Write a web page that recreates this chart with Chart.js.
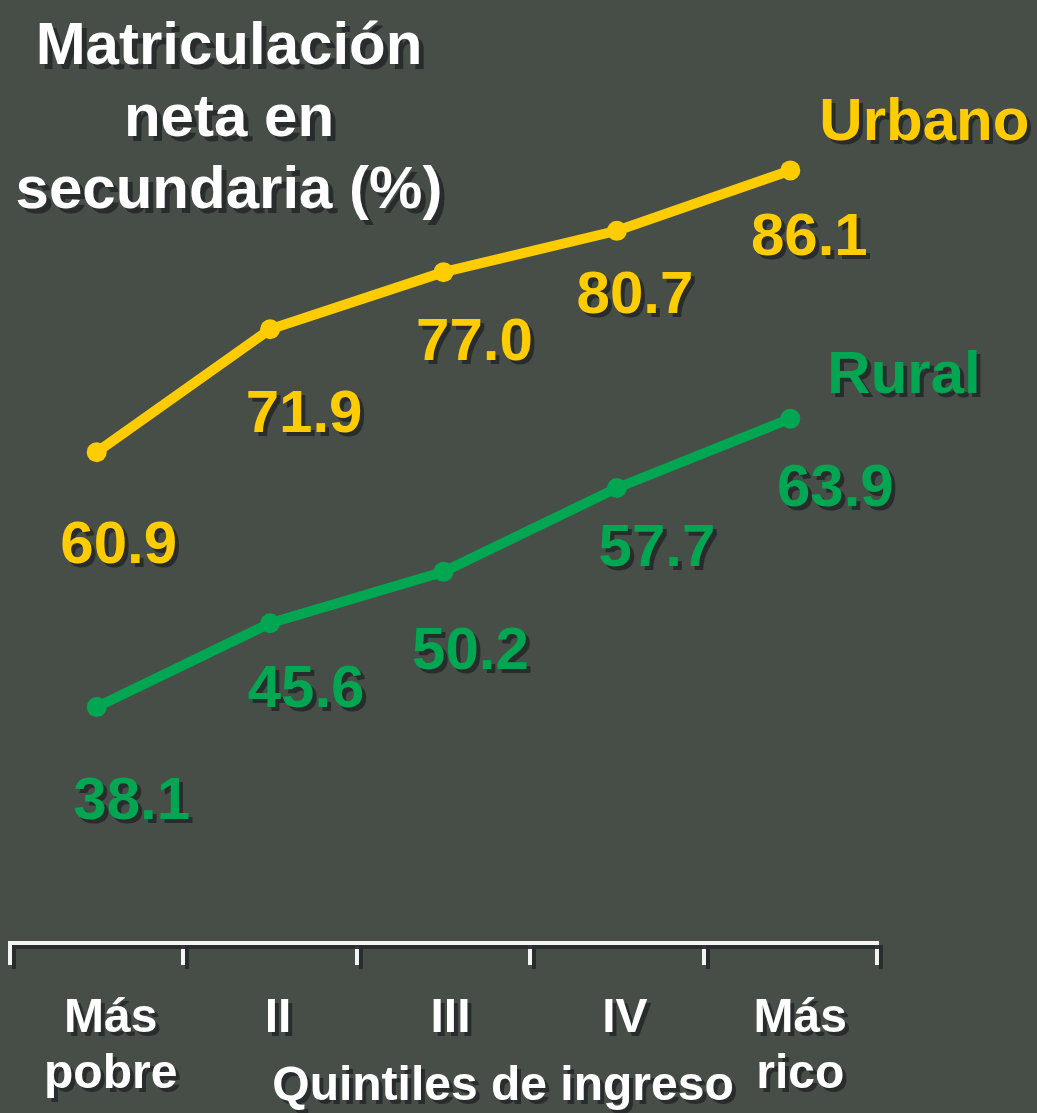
<!DOCTYPE html>
<html lang="es">
<head>
<meta charset="utf-8">
<title>Matriculación neta en secundaria</title>
<script src="https://cdn.jsdelivr.net/npm/chart.js@4.4.1/dist/chart.umd.min.js"></script>
<style>
  html, body { margin: 0; padding: 0; background: #464e47; }
  #wrap { position: relative; width: 1037px; height: 1113px; }
</style>
</head>
<body>
<div id="wrap"><canvas id="matriculaChart" width="1037" height="1113"></canvas></div>
<script>
// Datos
const quintiles = [['Más', 'pobre'], ['II'], ['III'], ['IV'], ['Más', 'rico']];
const urbano = [60.9, 71.9, 77.0, 80.7, 86.1];
const rural = [38.1, 45.6, 50.2, 57.7, 63.9];
const tituloLineas = ['Matriculación', 'neta en', 'secundaria (%)'];
const tituloEje = 'Quintiles de ingreso';

// Colores y ajustes de etiquetas (desplazamiento respecto al punto)
const AMARILLO = '#ffcc00';
const VERDE = '#00a651';
const SOMBRA = 'rgba(40, 42, 44, 0.95)';
const FUENTE = '"Liberation Sans", Arial, Helvetica, sans-serif';
const desplazUrbano = { dx: [22, 34, 31, 18, 19], dy: [111, 103, 88, 82, 85] };
const desplazRural = { dx: [35, 36, 27, 40, 45], dy: [112, 84, 97, 78, 87] };
const desplazCateg = [14, 8, 7, 8, 10];

function ponerSombra(ctx, d) {
    ctx.shadowColor = SOMBRA;
    ctx.shadowOffsetX = d;
    ctx.shadowOffsetY = d;
    ctx.shadowBlur = 0;
}

function quitarSombra(ctx) {
    ctx.shadowColor = 'rgba(0,0,0,0)';
    ctx.shadowOffsetX = 0;
    ctx.shadowOffsetY = 0;
}

function texto(ctx, str, x, y, color, size, align) {
    ctx.font = 'bold ' + size + 'px ' + FUENTE;
    ctx.fillStyle = color;
    ctx.textAlign = align || 'center';
    ctx.textBaseline = 'alphabetic';
    ctx.fillText(str, x, y);
}

// Sombra para el eje (se dibuja antes que las series)
const sombraEje = {
    id: 'sombraEje',
    beforeDraw(chart) {
        ponerSombra(chart.ctx, 4);
    },
    beforeDatasetsDraw(chart) {
        quitarSombra(chart.ctx);
    }
};

// Títulos, etiquetas de valores y de categorías
const rotulos = {
    id: 'rotulos',
    afterDatasetsDraw(chart) {
        const ctx = chart.ctx;
        ctx.save();
        ponerSombra(ctx, 4);

        const series = [
            { meta: chart.getDatasetMeta(0), vals: urbano, color: AMARILLO, d: desplazUrbano, nombre: 'Urbano', nx: 29, ny: -30 },
            { meta: chart.getDatasetMeta(1), vals: rural, color: VERDE, d: desplazRural, nombre: 'Rural', nx: 37, ny: -26 }
        ];
        series.forEach(s => {
            s.meta.data.forEach((pt, i) => {
                texto(ctx, s.vals[i].toFixed(1), pt.x + s.d.dx[i], pt.y + s.d.dy[i], s.color, 60);
            });
            const ult = s.meta.data[s.meta.data.length - 1];
            texto(ctx, s.nombre, ult.x + s.nx, ult.y + s.ny, s.color, 60, 'left');
        });

        // categorías del eje x
        const xs = chart.scales.x;
        quintiles.forEach((lineas, i) => {
            const x = xs.getPixelForValue(i) + desplazCateg[i];
            lineas.forEach((l, j) => {
                texto(ctx, l, x, 1032 + j * 56, '#ffffff', 48);
            });
        });
        texto(ctx, tituloEje, 503, 1100, '#ffffff', 48);

        // título
        ponerSombra(ctx, 5);
        tituloLineas.forEach((l, j) => {
            texto(ctx, l, 229, 64 + j * 72, '#ffffff', 60);
        });
        ctx.restore();
    }
};

document.addEventListener('DOMContentLoaded', () => {
    const ctx = document.getElementById('matriculaChart').getContext('2d');
    new Chart(ctx, {
        type: 'line',
        data: {
            labels: quintiles,
            datasets: [{
                label: 'Urbano',
                data: urbano,
                borderColor: AMARILLO,
                backgroundColor: AMARILLO,
                borderWidth: 10,
                pointRadius: 10,
                pointBackgroundColor: AMARILLO,
                pointBorderWidth: 0,
                tension: 0
            }, {
                label: 'Rural',
                data: rural,
                borderColor: VERDE,
                backgroundColor: VERDE,
                borderWidth: 10,
                pointRadius: 10,
                pointBackgroundColor: VERDE,
                pointBorderWidth: 0,
                tension: 0
            }]
        },
        options: {
            responsive: false,
            animation: false,
            layout: {
                padding: { left: 6, right: 160, top: 100, bottom: 148 }
            },
            plugins: {
                legend: { display: false },
                tooltip: { enabled: false },
                title: { display: false }
            },
            scales: {
                x: {
                    offset: true,
                    border: { display: true, color: '#f4f4f4', width: 4 },
                    grid: {
                        offset: true,
                        drawOnChartArea: false,
                        drawTicks: true,
                        tickLength: 22,
                        color: '#f4f4f4',
                        lineWidth: 4
                    },
                    ticks: { display: false }
                },
                y: {
                    display: false,
                    min: 17,
                    max: 92.4
                }
            }
        },
        plugins: [sombraEje, rotulos]
    });
});
</script>
</body>
</html>
